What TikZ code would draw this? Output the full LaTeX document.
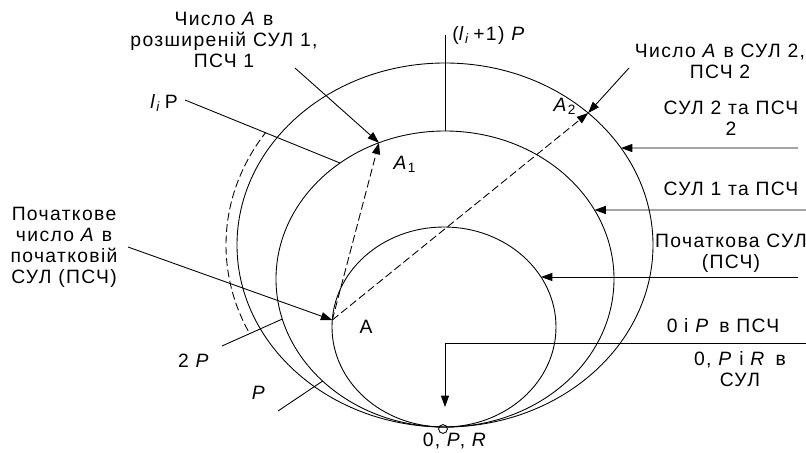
\documentclass[tikz,border=0pt]{standalone}
\usepackage{fontspec}
\setmainfont{Liberation Sans}[LetterSpace=7]
\usetikzlibrary{arrows.meta}

\begin{document}
\begin{tikzpicture}[x=0.02cm, y=-0.02cm, line width=0.5pt, >={Triangle[length=6.5pt, width=4.6pt]},
  every node/.style={font=\fontsize{11}{12}\selectfont, align=center, inner sep=1pt},
  dashline/.style={dash pattern=on 4.5pt off 2pt}]
\path[use as bounding box] (0,0) rectangle (806,453);
\coordinate (c0) at (444,327);
\coordinate (c1) at (445,279);
\coordinate (c2) at (445,245);
\draw (c0) ellipse [x radius=112, y radius=100];
\draw (c1) ellipse [x radius=169, y radius=148];
\draw (c2) ellipse [x radius=208, y radius=182];
\draw[dashline] plot[domain=154:215, samples=40, smooth] ({445+219*cos(\x)}, {245+196*sin(\x)});
\node[circle, draw, minimum size=5pt, inner sep=0pt] (zero) at (443,429) {};
\path (c0) ++(184:112 and 100) coordinate (A);
\path (c1) ++(-113:169 and 148) coordinate (A1);
\path (c2) ++(-46.5:208 and 182) coordinate (A2);
\path (c2) ++(-32.2:208 and 182) coordinate (t2);
\path (c1) ++(-27.8:169 and 148) coordinate (t1);
\path (c0) ++(-30:112 and 100) coordinate (t0);
\path (c1) ++(-90:169 and 148) coordinate (top1);
\path (c1) ++(231.6:169 and 148) coordinate (m1);
\path (c1) ++(164.3:169 and 148) coordinate (m2);
\path (c1) ++(136.4:169 and 148) coordinate (m3);
\coordinate (p0) at (128,247);
\coordinate (p1) at (295,68);
\coordinate (p2) at (629,68);
\coordinate (s2) at (798,148);
\coordinate (s1) at (806,210);
\coordinate (s0) at (798,277);
\coordinate (q0) at (445,35);
\coordinate (q1) at (185,100);
\coordinate (q2) at (222,346);
\coordinate (q3) at (278,411);
\coordinate (r0) at (806,343);
\coordinate (r2) at (445,407);
\node (lblA) at (366,327) {A};
\node (lblA1) at (405,164) {\textit{A}\textsubscript{1}};
\node (lblA2) at (565,106) {\textit{A}\textsubscript{2}};
\node (lblStart) at (64,247) {Початкове\\число \textit{A} в\\початковій\\СУЛ (ПСЧ)};
\node (lblExt) at (224,40) {Число \textit{A} в\\розширеній СУЛ 1,\\ПСЧ 1};
\node (lblLi) at (164,103) {\textit{l}\textsubscript{\textit{i}}\,P};
\node (lblLiOne) at (489,35) {(\textit{l}\textsubscript{\textit{i}}\,+1) \textit{P}};
\node (lblTwoP) at (194,361) {2 \textit{P}};
\node (lblP) at (259,393) {\textit{P}};
\node (lblNumTwo) at (720,61) {Число \textit{A} в СУЛ 2,\\ПСЧ 2};
\node (lblSysTwo) at (731,118) {СУЛ 2 та ПСЧ\\2};
\node (lblSysOne) at (731,189) {СУЛ 1 та ПСЧ};
\node (lblSysZero) at (731,253) {Початкова СУЛ\\(ПСЧ)};
\node (lblZeroP) at (723,326) {0 і \textit{P}\, в ПСЧ};
\node (lblZeroPR) at (740,369) {0, \textit{P} і \textit{R}\, в\\СУЛ};
\node (lblZero) at (455,441) {0, \textit{P}, \textit{R}};
\draw[->] (p0) -- (A);
\draw[->] (p1) -- (A1);
\draw[->] (p2) -- (A2);
\draw[->, dashline] (A) -- (A1);
\draw[->, dashline] (A) -- (A2);
\draw[->] (s2) -- (t2);
\draw[->] (s1) -- (t1);
\draw[->] (s0) -- (t0);
\draw (q0) -- (top1);
\draw (q1) -- (m1);
\draw (q2) -- (m2);
\draw (q3) -- (m3);
\draw[->] (r0) -| (r2);
\end{tikzpicture}
\end{document}
